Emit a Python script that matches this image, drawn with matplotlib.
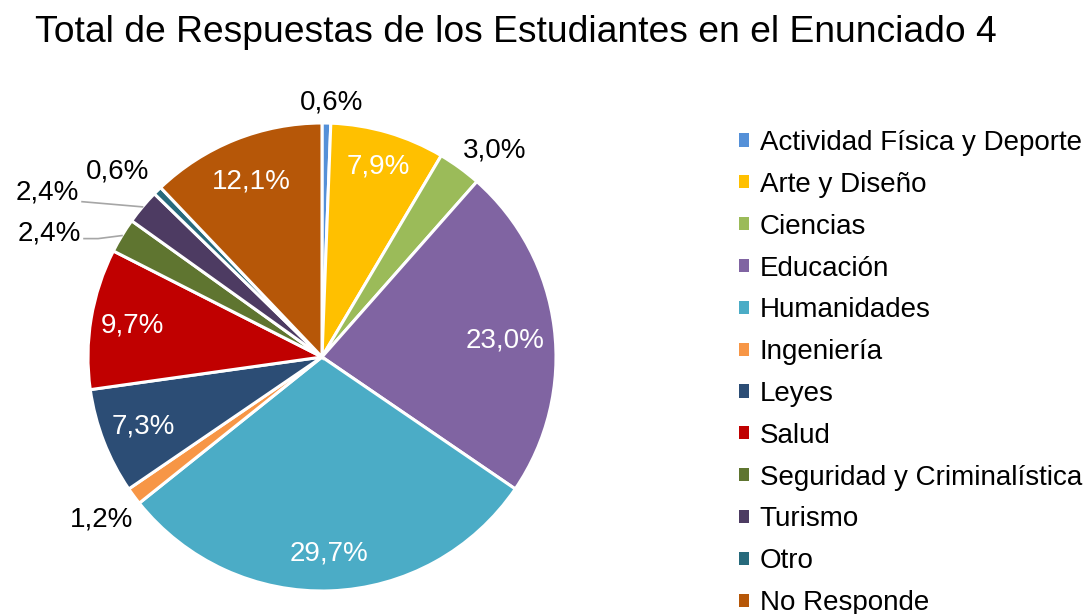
import numpy as np
import matplotlib
matplotlib.use("Agg")
import matplotlib.pyplot as plt
from matplotlib.patches import Patch

plt.rcParams['font.family'] = ['Liberation Sans', 'DejaVu Sans']

categorias = ["Actividad Física y Deporte", "Arte y Diseño", "Ciencias", "Educación",
              "Humanidades", "Ingeniería", "Leyes", "Salud",
              "Seguridad y Criminalística", "Turismo", "Otro", "No Responde"]
porcentajes = [0.6, 7.9, 3.0, 23.0, 29.7, 1.2, 7.3, 9.7, 2.4, 2.4, 0.6, 12.1]
colores = ["#5490D8", "#FFC000", "#9BBB59", "#8064A2", "#4BACC6", "#F79646",
           "#2C4D75", "#C00000", "#5F7530", "#4D3B62", "#276A7C", "#B65708"]

# label radius (fraction of pie radius), angle offset in degrees, inside?
lab_r = [1.09, 0.85, 1.15, 0.785, 0.84, 1.17, 0.82, 0.82, 1.28, 1.37, 1.18, 0.81]
lab_da = [-1, 0, -4, -2, 0, 0, 0, 0, 7, 9, 3, 0]
dentro = [False, True, False, True, True, False, True, True, False, False, False, True]

fig = plt.figure(figsize=(10.86, 6.14), dpi=100)
R = 234
cx, cy = 322, 614 - 357
ax = fig.add_axes([(cx - R) / 1086, (cy - R) / 614, 2 * R / 1086, 2 * R / 614])
wedges, _ = ax.pie(porcentajes, colors=colores, startangle=90, counterclock=False,
                   radius=1.0, wedgeprops=dict(edgecolor="white", linewidth=2.2))
ax.set_xlim(-1, 1)
ax.set_ylim(-1, 1)
ax.set_aspect("equal")
ax.axis("off")

for i, w in enumerate(wedges):
    ang = np.deg2rad((w.theta1 + w.theta2) / 2 + lab_da[i])
    x, y = lab_r[i] * np.cos(ang), lab_r[i] * np.sin(ang)
    txt = f"{porcentajes[i]:.1f}%".replace(".", ",")
    ax.text(x, y, txt, ha="center", va="center", fontsize=20,
            color="white" if dentro[i] else "black", clip_on=False)
    if i in (8, 9):
        mid = np.deg2rad((w.theta1 + w.theta2) / 2)
        ex, ey = 1.0 * np.cos(mid), 1.0 * np.sin(mid)
        tx = x + 0.15
        if i == 8:
            ax.plot([tx, tx + 0.06, ex], [y - 0.02, y - 0.02, ey], color="#A6A6A6",
                    lw=1.2, clip_on=False)
        else:
            ax.plot([tx, ex], [y - 0.04, ey], color="#A6A6A6", lw=1.2, clip_on=False)

handles = [Patch(facecolor=c, edgecolor="none") for c in colores]
fig.legend(handles, categorias, loc="upper left", bbox_to_anchor=(739 / 1086, 1 - 130 / 614),
           frameon=False, fontsize=20, handlelength=0.35, handleheight=0.35,
           handletextpad=0.4, labelspacing=0.57, borderaxespad=0, borderpad=0)

fig.text(35 / 1086, 1 - 32 / 614, "Total de Respuestas de los Estudiantes en el Enunciado 4",
         fontsize=26.8, ha="left", va="center")

fig.savefig("out.png", dpi=100)
